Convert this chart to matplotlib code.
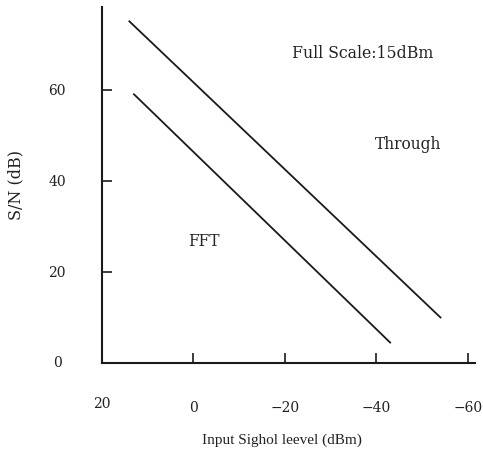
import matplotlib
matplotlib.use("Agg")
import matplotlib.pyplot as plt

# Data
through_x = [14, -54]
through_y = [75, 10]
fft_x = [13, -43]
fft_y = [59, 4.5]

xticks = [20, 0, -20, -40, -60]
xticklabels = ["20", "0", "\u221220", "\u221240", "\u221260"]
yticks = [0, 20, 40, 60]
yticklabels = ["0", "20", "40", "60"]

plt.rcParams['font.family'] = ['DejaVu Serif']

fig = plt.figure(figsize=(4.83, 4.51), dpi=100)
ax = fig.add_axes([0.211, 0.195, 0.772, 0.79])

ax.plot(through_x, through_y, color='#1a1a1a', lw=1.3)
ax.plot(fft_x, fft_y, color='#1a1a1a', lw=1.3)

ax.set_xlim(20, -61.5)
ax.set_ylim(0, 78.2)

for s in ['top', 'right']:
    ax.spines[s].set_visible(False)
for s in ['left', 'bottom']:
    ax.spines[s].set_linewidth(1.5)
    ax.spines[s].set_color('#1a1a1a')

ax.set_xticks(xticks[1:])
ax.set_xticklabels(xticklabels[1:])
ax.set_yticks(yticks[1:])
ax.set_yticklabels(yticklabels[1:])
ax.tick_params(axis='both', direction='in', length=7, width=1.2, color='#1a1a1a',
               labelsize=10, labelcolor='#222222')
ax.tick_params(axis='y', pad=26)
ax.tick_params(axis='x', pad=27)

# corner labels "0" on y and "20" on x at the origin
ax.text(-0.12, 0, yticklabels[0], transform=ax.get_yaxis_transform(), ha='center', va='center',
        fontsize=10, color='#222222')
ax.text(xticks[0], -0.115, xticklabels[0], transform=ax.get_xaxis_transform(), ha='center', va='center',
        fontsize=10, color='#222222')

ax.set_xlabel("Input Sighol leevel (dBm)", fontsize=11, color='#222222',
              family=['Liberation Serif'])
ax.xaxis.set_label_coords(0.483, -0.199)
ax.set_ylabel("S/N (dB)", fontsize=11.5, color='#222222', labelpad=17)

ax.text(-37, 68, "Full Scale:15dBm", ha='center', va='center', fontsize=11.3, color='#222222')
ax.text(-47, 48, "Through", ha='center', va='center', fontsize=11.2, color='#222222')
ax.text(-2.3, 26.6, "FFT", ha='center', va='center', fontsize=11.2, color='#222222')

fig.savefig("out.png", dpi=100)
